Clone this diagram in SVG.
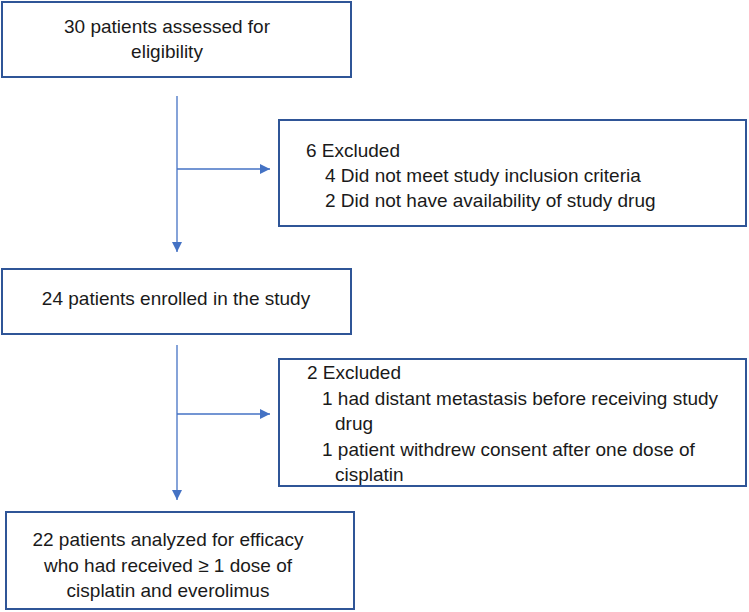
<svg xmlns="http://www.w3.org/2000/svg" width="749" height="612" viewBox="0 0 749 612">
<style>
.box{fill:#fff;stroke:#2F5597;stroke-width:2}
.t{font-family:"Liberation Sans",Arial,sans-serif;font-size:19px;fill:#1a1a1a}
.c{text-anchor:middle}
.ln{stroke:#4472C4;stroke-width:1.3;fill:none}
</style>
<defs>
<marker id="ah" viewBox="0 0 10 10" refX="10" refY="5" markerWidth="10" markerHeight="10" markerUnits="userSpaceOnUse" orient="auto">
<path d="M0,0 L10,5 L0,10 z" fill="#4472C4"/>
</marker>
</defs>
<rect width="749" height="612" fill="#fff"/>
<g id="connectors">
<line class="ln" x1="177" y1="96" x2="177" y2="252" marker-end="url(#ah)"/>
<line class="ln" x1="177" y1="169" x2="270" y2="169" marker-end="url(#ah)"/>
<line class="ln" x1="177" y1="345" x2="177" y2="500" marker-end="url(#ah)"/>
<line class="ln" x1="177" y1="414" x2="270" y2="414" marker-end="url(#ah)"/>
</g>
<g id="n1">
<rect class="box" x="2" y="2" width="349" height="75"/>
<text class="t c" x="167" y="33">30 patients assessed for</text>
<text class="t c" x="167" y="58">eligibility</text>
</g>
<g id="n2">
<rect class="box" x="279" y="120" width="467" height="106"/>
<text class="t" x="306" y="157">6 Excluded</text>
<text class="t" x="325" y="182">4 Did not meet study inclusion criteria</text>
<text class="t" x="325" y="207">2 Did not have availability of study drug</text>
</g>
<g id="n3">
<rect class="box" x="2" y="269" width="349" height="65"/>
<text class="t c" x="176" y="305">24 patients enrolled in the study</text>
</g>
<g id="n4">
<rect class="box" x="279" y="359" width="467" height="127"/>
<text class="t" x="307" y="379">2 Excluded</text>
<text class="t" x="322" y="405">1 had distant metastasis before receiving study</text>
<text class="t" x="335" y="430">drug</text>
<text class="t" x="322" y="456">1 patient withdrew consent after one dose of</text>
<text class="t" x="335" y="481">cisplatin</text>
</g>
<g id="n5">
<rect class="box" x="6" y="512" width="348" height="97"/>
<text class="t c" x="168" y="546">22 patients analyzed for efficacy</text>
<text class="t c" x="168" y="572">who had received ≥ 1 dose of</text>
<text class="t c" x="168" y="597">cisplatin and everolimus</text>
</g>
</svg>
